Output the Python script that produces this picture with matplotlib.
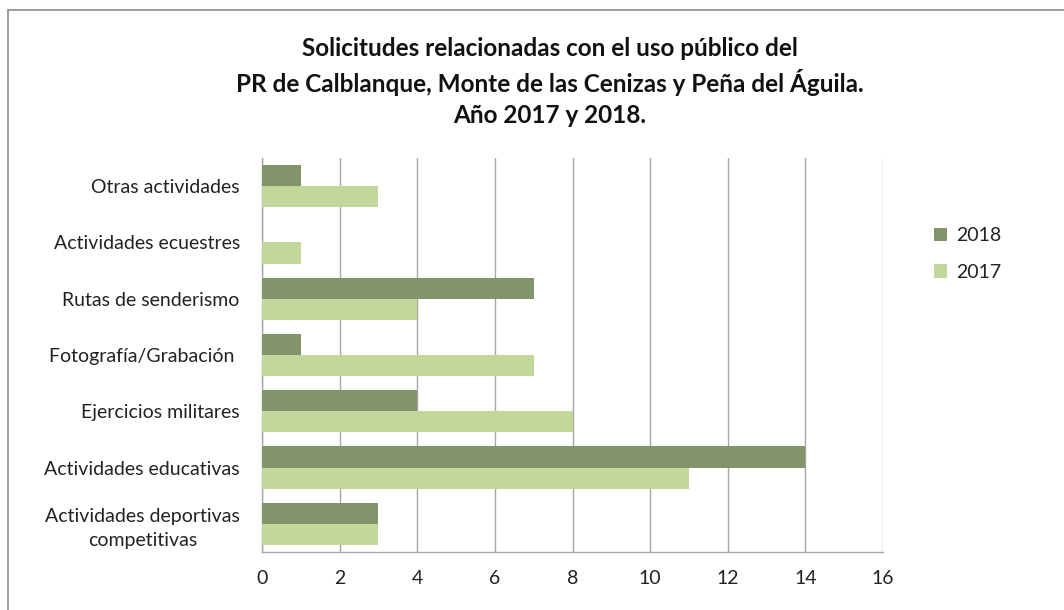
import matplotlib.pyplot as plt
import numpy as np
from matplotlib.patches import Rectangle

plt.rcParams['font.family'] = ['Lato', 'DejaVu Sans']

# categories bottom to top
categorias = ['Actividades deportivas\ncompetitivas', 'Actividades educativas',
              'Ejercicios militares', 'Fotografía/Grabación ', 'Rutas de senderismo',
              'Actividades ecuestres', 'Otras actividades']
valores_2018 = [3, 14, 4, 1, 7, 0, 1]
valores_2017 = [3, 11, 8, 7, 4, 1, 3]
ticks_x = [0, 2, 4, 6, 8, 10, 12, 14, 16]

color_2018 = '#84946A'
color_2017 = '#C4D79B'

fig = plt.figure(figsize=(10.64, 6.10), dpi=100)
ax = fig.add_axes([262 / 1064, 1 - 552 / 610, 621 / 1064, 394 / 610])

y = np.arange(len(categorias))
h = 0.375
ax.barh(y + h / 2, valores_2018, height=h, color=color_2018, label='2018', zorder=3)
ax.barh(y - h / 2, valores_2017, height=h, color=color_2017, label='2017', zorder=3)

ax.set_xlim(0, 16)
ax.set_ylim(-0.5, len(categorias) - 0.5)
ax.set_xticks(ticks_x)
ax.set_yticks(y)
ax.set_yticklabels(categorias, fontsize=14, color='#222222', linespacing=1.45,
                   multialignment='center')
ax.tick_params(axis='x', labelsize=14, colors='#222222', length=0, pad=13)
ax.tick_params(axis='y', length=0, pad=16)
ax.grid(axis='x', color='#A6A6A6', linewidth=1.0, zorder=0)
for s in ['top', 'right']:
    ax.spines[s].set_visible(False)
for s in ['left', 'bottom']:
    ax.spines[s].set_color('#A6A6A6')
    ax.spines[s].set_linewidth(1.0)

fig.text(0.5165, 1 - 82 / 610,
         'Solicitudes relacionadas con el uso público del\n'
         'PR de Calblanque, Monte de las Cenizas y Peña del Águila.\n'
         'Año 2017 y 2018.',
         ha='center', va='center', fontsize=17.5, fontweight='bold',
         color='#111111', linespacing=1.4)

leg = fig.legend(loc='upper left', bbox_to_anchor=(916 / 1064, 1 - 210 / 610),
                 frameon=False, fontsize=14, handlelength=0.7, handleheight=0.7,
                 labelspacing=1.0, handletextpad=0.45)
for t in leg.get_texts():
    t.set_color('#222222')

fig.patches.append(Rectangle((8 / 1064, -0.1), 1.2, 1 - 10 / 610 + 0.1,
                             transform=fig.transFigure, fill=False,
                             edgecolor='#8C8C8C', linewidth=1.2))

fig.savefig('out.png', dpi=100)
